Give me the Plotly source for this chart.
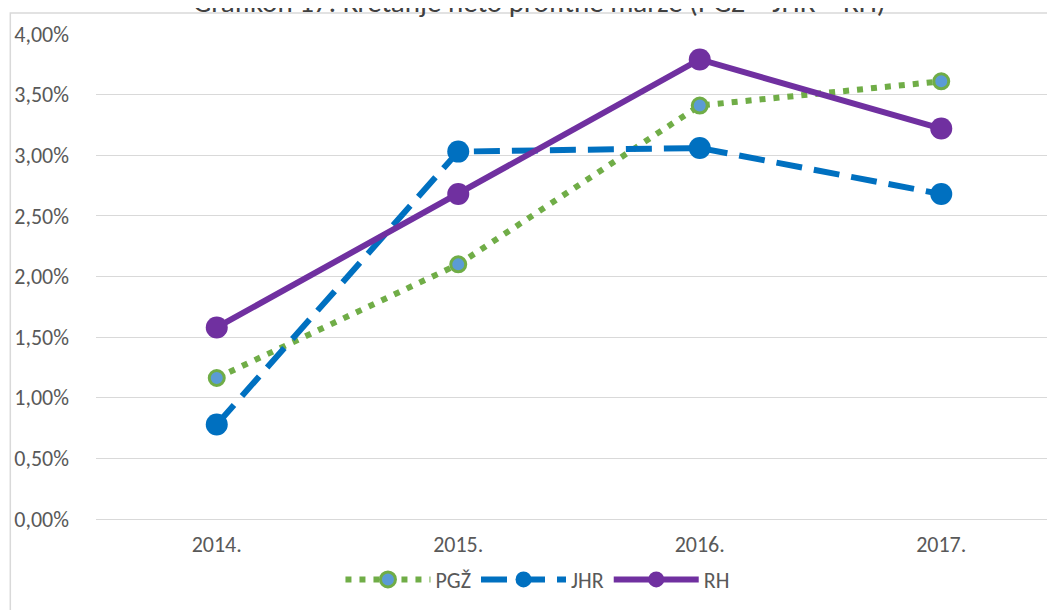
import plotly.graph_objects as go

# Data
years = ["2014.", "2015.", "2016.", "2017."]
pgz = [0.01163, 0.0210, 0.0341, 0.0361]
jhr = [0.0078, 0.0303, 0.0306, 0.0268]
rh = [0.0158, 0.0268, 0.0379, 0.0322]

font_family = "Carlito, Calibri, 'Liberation Sans Narrow', 'Noto Sans', sans-serif"
text_color = "#595959"
grid_color = "#D9D9D9"

x_idx = list(range(len(years)))

fig = go.Figure()

fig.add_trace(go.Scatter(
    x=x_idx, y=pgz, name="PGŽ", mode="lines+markers",
    line=dict(color="#70AD47", width=6, dash="6px,8px"),
    marker=dict(symbol="circle", size=15, color="#5B9BD5",
                line=dict(color="#70AD47", width=3)),
))
fig.add_trace(go.Scatter(
    x=x_idx, y=jhr, name="JHR", mode="lines+markers",
    line=dict(color="#0070C0", width=6, dash="26px,12px"),
    marker=dict(symbol="circle", size=22, color="#0070C0"),
))
fig.add_trace(go.Scatter(
    x=x_idx, y=rh, name="RH", mode="lines+markers",
    line=dict(color="#7030A0", width=6),
    marker=dict(symbol="circle", size=22, color="#7030A0"),
))

# chart-area border (partially cropped in the reference)
fig.add_shape(type="rect", xref="paper", yref="paper",
              x0=-0.0887, x1=1.1, y0=-0.4, y1=1.0433,
              line=dict(color=grid_color, width=1.5), layer="below")

# title, cut off at the top edge as in the reference
fig.add_annotation(
    text="Grafikon 17: Kretanje neto profitne marže (PGŽ – JHR – RH)",
    xref="paper", yref="paper", x=0.459, y=1.066,
    xanchor="center", yanchor="middle", showarrow=False,
    font=dict(size=29, color="#404040"),
)

fig.update_layout(
    width=1055, height=610,
    paper_bgcolor="white", plot_bgcolor="white",
    separators=",.",
    margin=dict(l=88, r=1, t=26, b=99),
    font=dict(family=font_family, size=22, color=text_color),
    legend=dict(orientation="h", x=0.457, xanchor="center", y=-0.125, yanchor="middle",
                font=dict(size=22, color=text_color), itemwidth=85,
                bgcolor="rgba(0,0,0,0)"),
    showlegend=True,
)

fig.update_xaxes(
    tickmode="array", tickvals=x_idx, ticktext=years,
    range=[-0.5, 3.5], showgrid=False, zeroline=False,
    showline=True, linecolor=grid_color, linewidth=1,
    ticks="", ticklabelstandoff=6,
)
fig.update_yaxes(
    range=[0, 0.04], dtick=0.005, tickformat=".2%",
    showgrid=True, gridcolor=grid_color, gridwidth=1,
    zeroline=False, showline=False, ticks="", ticklabelstandoff=26,
)

fig.write_html("out.html")
